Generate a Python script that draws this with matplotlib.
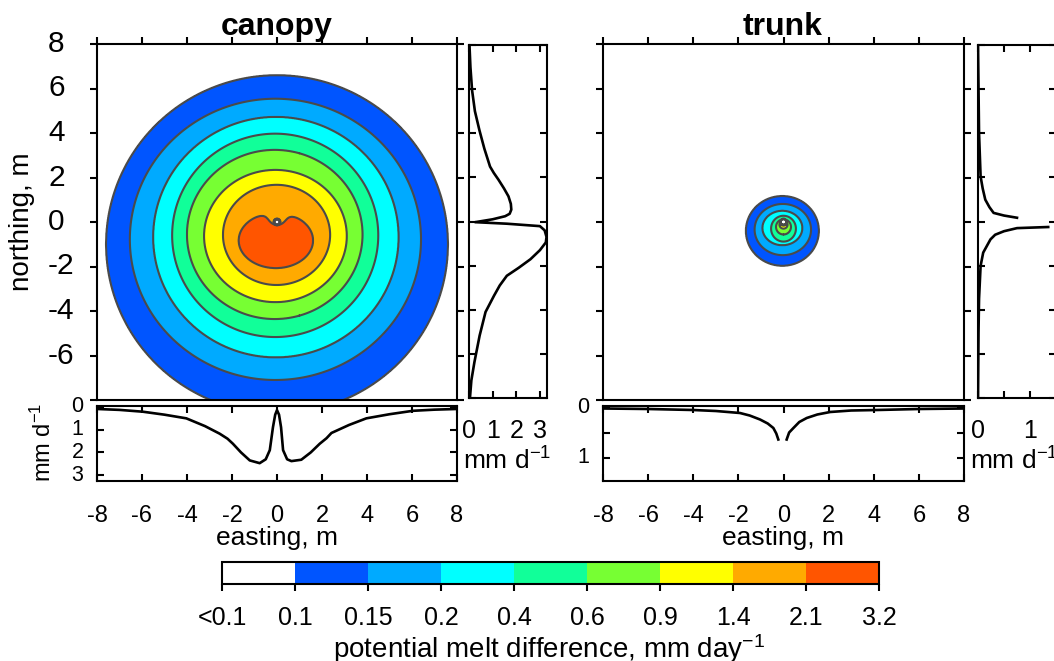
import numpy as np
import matplotlib.pyplot as plt
import matplotlib.transforms as mtransforms
from matplotlib.colors import ListedColormap, BoundaryNorm

plt.rcParams['font.family'] = ['Liberation Sans', 'DejaVu Sans']
plt.rcParams['mathtext.fontset'] = 'custom'
plt.rcParams['mathtext.rm'] = 'Liberation Sans'
plt.rcParams['mathtext.default'] = 'regular'
plt.rcParams['axes.unicode_minus'] = False
plt.rcParams['axes.linewidth'] = 1.5

# melt difference classes, mm/day
bounds = [0, 0.1, 0.15, 0.2, 0.4, 0.6, 0.9, 1.4, 2.1, 3.2]
bound_labels = ['<0.1', '0.1', '0.15', '0.2', '0.4', '0.6', '0.9', '1.4', '2.1', '3.2']
band_colors = ['#ffffff', '#0055ff', '#00aaff', '#00ffff', '#11ff99',
               '#77ff33', '#ffff00', '#ffaa00', '#ff5500']

# canopy: one contour ring per class boundary (0.1 ... 2.1), centre and semi-axes in m
canopy_cx = [0.0, -0.07, -0.05, -0.08, -0.10, -0.07, -0.02, -0.05]
canopy_cy = [-1.0, -0.78, -0.68, -0.60, -0.56, -0.63, -0.58, -0.83]
canopy_rx = [7.60, 6.47, 5.45, 4.58, 3.90, 3.17, 2.38, 1.65]
canopy_ry = [7.60, 6.32, 5.40, 4.57, 3.80, 2.97, 2.25, 1.24]
canopy_peak = 3.0

# trunk: rings for 0.1 ... 0.9
trunk_cx = [-0.05, -0.03, -0.05, 0.0, 0.0, 0.0]
trunk_cy = [-0.40, -0.34, -0.27, -0.30, -0.22, -0.12]
trunk_rx = [1.62, 1.25, 0.88, 0.55, 0.33, 0.18]
trunk_ry = [1.57, 1.15, 0.77, 0.58, 0.34, 0.18]
trunk_peak = 1.0

# transects: along easting (northing 0) and along northing (easting 0)
canopy_east = [-8, -7, -5.96, -5, -4.03, -3.2, -2.55, -2.2, -1.96, -1.6, -1.21, -0.77,
               -0.5, -0.32, -0.18, -0.08, 0, 0.09, 0.18, 0.27, 0.45, 0.64, 1.08, 1.5,
               1.9, 2.2, 2.42, 3.2, 3.97, 5, 6.04, 7, 8]
canopy_east_val = [0.1, 0.14, 0.22, 0.35, 0.51, 0.85, 1.18, 1.4, 1.62, 2.0, 2.35, 2.47,
                   2.3, 1.9, 0.9, 0.35, 0.15, 0.35, 0.9, 1.9, 2.3, 2.38, 2.32, 2.0,
                   1.62, 1.38, 1.15, 0.8, 0.51, 0.33, 0.18, 0.13, 0.1]
canopy_north = [8, 7, 5.95, 5, 4.14, 3.3, 2.49, 2.2, 1.89, 1.5, 1.14, 0.8, 0.54, 0.35,
                0.24, 0.1, -0.03, -0.1, -0.21, -0.4, -0.7, -0.95, -1.3, -1.71, -2.1,
                -2.46, -2.9, -3.36, -4.1, -5.17, -6.37, -7.2, -8]
canopy_north_val = [0.02, 0.06, 0.13, 0.25, 0.44, 0.65, 0.89, 1.05, 1.25, 1.48, 1.67,
                    1.77, 1.79, 1.72, 1.53, 1.0, 0.26, 1.6, 3.0, 3.2, 3.28, 3.25, 3.0,
                    2.6, 2.1, 1.6, 1.3, 1.06, 0.7, 0.45, 0.23, 0.1, 0.04]
trunk_east = [-8, -6, -4, -3, -1.93, -1.5, -1.04, -0.7, -0.45, -0.32, -0.23, np.nan,
              0.14, 0.25, 0.44, 0.7, 1.03, 1.5, 2.07, 3, 4.14, 6, 8]
trunk_east_val = [0.02, 0.03, 0.05, 0.07, 0.11, 0.16, 0.24, 0.32, 0.41, 0.52, 0.64, np.nan,
                  0.64, 0.5, 0.41, 0.29, 0.21, 0.14, 0.09, 0.06, 0.05, 0.03, 0.02]
trunk_north = [8, 6, 4, 2.04, 1.5, 0.99, 0.65, 0.39, 0.27, 0.17, np.nan,
               -0.25, -0.3, -0.44, -0.6, -0.81, -1.41, -2.01, -3.5, -5, -8]
trunk_north_val = [0.0, 0.01, 0.02, 0.05, 0.09, 0.14, 0.22, 0.3, 0.5, 0.75, np.nan,
                   1.35, 0.75, 0.5, 0.33, 0.24, 0.1, 0.05, 0.02, 0.01, 0.0]

cmap = ListedColormap(band_colors)
norm = BoundaryNorm(bounds, cmap.N)

grid = np.linspace(-8, 8, 1001)
X, Y = np.meshgrid(grid, grid)
D = np.hypot(X, Y)  # distance from the stem


def melt_field(cx, cy, rx, ry, peak, notch_depth, soft=0.05):
    # count how many rings each point lies inside, smoothed over `soft` metres
    L = np.zeros_like(X)
    for k in range(len(cx)):
        rho = np.hypot((X - cx[k]) / rx[k], (Y - cy[k]) / ry[k])
        s = min(rx[k], ry[k]) * (1 - rho) - notch_depth * np.exp(-(D / 0.45) ** 2)
        L += np.clip(s / soft + 0.5, 0, 1)
    n = len(cx)
    xp = [0] + [k + 0.5 for k in range(n)] + [n]
    fp = [0] + bounds[1:n + 1] + [peak]
    V = np.interp(L, xp, fp)
    # no melt signal inside the stem itself
    return V * np.clip((D - 0.12) / 0.04, 0, 1)


canopy_V = melt_field(canopy_cx, canopy_cy, canopy_rx, canopy_ry, canopy_peak, 0.6)
trunk_V = melt_field(trunk_cx, trunk_cy, trunk_rx, trunk_ry, trunk_peak, 0.0)

W, H = 1054, 661
fig = plt.figure(figsize=(W / 100, H / 100), dpi=100)


def px_axes(x0, y0, x1, y1):
    return fig.add_axes([x0 / W, 1 - y1 / H, (x1 - x0) / W, (y1 - y0) / H])


def left_labels(ax, x_frac, ticks, labels, size):
    # tick labels that start at a common left edge
    tr = mtransforms.blended_transform_factory(ax.transAxes, ax.transData)
    for t, s in zip(ticks, labels):
        ax.text(x_frac, t, s, transform=tr, ha='left', va='center',
                fontsize=size, clip_on=False)


ticks16 = list(range(-8, 9, 2))


def setup_map(ax, V, ylabels):
    ax.contourf(X, Y, V, levels=bounds, cmap=cmap, norm=norm)
    ax.contour(X, Y, V, levels=bounds[1:-1], colors='#4a4a4a', linewidths=1.5)
    ax.set_xlim(-8, 8)
    ax.set_ylim(-8, 8)
    ax.set_xticks(ticks16)
    ax.set_yticks(ticks16)
    ax.tick_params(axis='x', top=True, bottom=False, labelbottom=False,
                   direction='out', length=5, width=1.5)
    ax.tick_params(axis='y', left=True, right=True, labelleft=False,
                   direction='out', length=5, width=1.5)
    if ylabels:
        left_labels(ax, -0.136, ticks16[1:], [str(v) for v in ticks16[1:]], 21.5)


def setup_east(ax, x, v, ymax, yticks, ylabels):
    ax.plot(x, v, color='k', lw=1.9)
    ax.set_xlim(-8, 8)
    ax.set_ylim(ymax, -0.03)
    ax.set_xticks(ticks16)
    ax.set_xticklabels([str(t) for t in ticks16])
    ax.set_yticks(yticks)
    ax.tick_params(direction='in', top=True, right=True, length=5, width=1.5,
                   labelleft=False)
    ax.tick_params(axis='x', labelsize=17, pad=17)
    left_labels(ax, -0.071, yticks, ylabels, 15.5)


def setup_north(ax, y, v, xmax, xticks, xlabels):
    ax.plot(v, y, color='k', lw=1.9)
    ax.set_ylim(-8, 8)
    ax.set_xlim(0, xmax)
    ax.set_yticks(ticks16)
    ax.set_xticks(xticks)
    ax.set_xticklabels(xlabels)
    ax.tick_params(direction='in', top=True, right=True, length=5, width=1.5,
                   labelleft=False)
    ax.tick_params(axis='x', labelsize=18, pad=15)


# canopy panels
ax1 = px_axes(97, 44, 457, 400)
setup_map(ax1, canopy_V, True)
ax1b = px_axes(97, 406, 457, 481)
setup_east(ax1b, canopy_east, canopy_east_val, 3.25, [0, 1, 2, 3], ['0', '1', '2', '3'])
ax1r = px_axes(469, 45, 547, 398)
setup_north(ax1r, canopy_north, canopy_north_val, 3.3, [0, 1, 2, 3], ['0', '1', '2', '3'])

# trunk panels
ax2 = px_axes(603, 44, 964, 400)
setup_map(ax2, trunk_V, False)
ax2b = px_axes(603, 406, 964, 481)
setup_east(ax2b, trunk_east, trunk_east_val, 1.47, [0, 0.5, 1], ['0', '', '1'])
ax2r = px_axes(978, 45, 1056, 398)
setup_north(ax2r, trunk_north, trunk_north_val, 1.5, [0, 0.5, 1], ['0', '', '1'])


def fig_text(x, y, s, **kw):
    return fig.text(x / W, 1 - y / H, s, **kw)


fig_text(277, 35, 'canopy', fontsize=23, fontweight='bold', ha='center', va='baseline')
fig_text(783, 35, 'trunk', fontsize=23, fontweight='bold', ha='center', va='baseline')
fig_text(22, 222, 'northing, m', fontsize=20, rotation=90, ha='center', va='center')
fig_text(43, 442, 'mm d$^{-1}$', fontsize=17, rotation=90, ha='center', va='center')
fig_text(277, 545, 'easting, m', fontsize=19, ha='center', va='baseline')
fig_text(783, 545, 'easting, m', fontsize=19, ha='center', va='baseline')
fig_text(507, 470, 'mm d$^{-1}$', fontsize=19, ha='center', va='baseline')
fig_text(1014, 470, 'mm d$^{-1}$', fontsize=19, ha='center', va='baseline')

# colour bar
cax = px_axes(222, 562, 879, 584)
sm = plt.cm.ScalarMappable(norm=norm, cmap=cmap)
cb = fig.colorbar(sm, cax=cax, orientation='horizontal', ticks=bounds)
cb.set_ticklabels(bound_labels)
cb.outline.set_linewidth(1.5)
cax.tick_params(direction='out', length=5, width=1.5, labelsize=18, pad=11)
fig_text(549, 658, 'potential melt difference, mm day$^{-1}$', fontsize=20,
         ha='center', va='baseline')

fig.savefig('out.png', dpi=100)
